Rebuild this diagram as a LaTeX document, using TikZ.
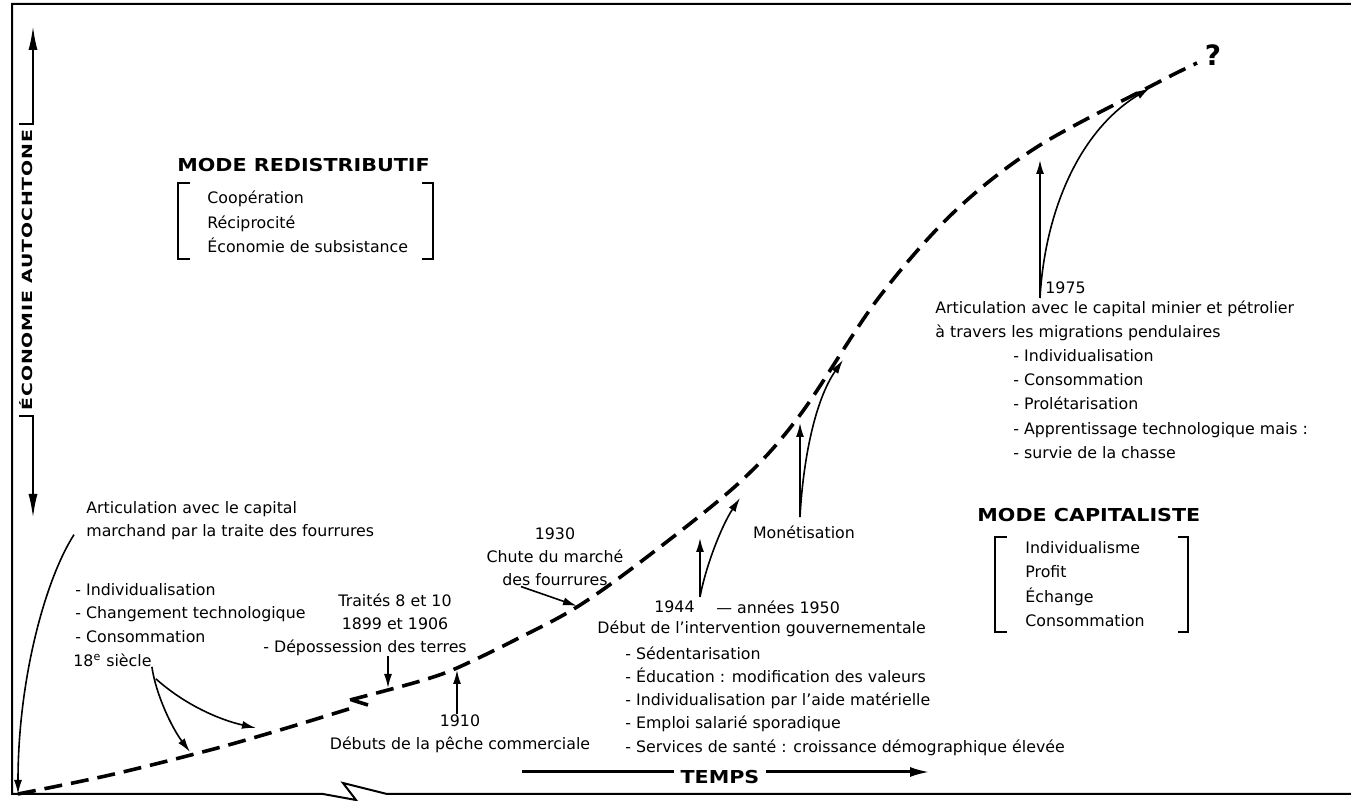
\documentclass[tikz,border=0pt]{standalone}
\usepackage{fontspec}
\setmainfont{DejaVu Sans}
\newfontfamily\headfamily[FakeStretch=1.16]{DejaVu Sans}
\newfontfamily\axisfamily[FakeStretch=1.35, LetterSpace=6]{DejaVu Sans}
\usetikzlibrary{arrows.meta}

\tikzset{
  txt/.style={inner sep=0pt, font=\fontsize{7.9}{11.6}\selectfont},
  txtwide/.style={inner sep=0pt, font=\fontsize{7.9}{12.2}\selectfont},
  modehead/.style={inner sep=0pt, font=\headfamily\bfseries\fontsize{8.9}{10}\selectfont},
  axislbl/.style={inner xsep=3pt, inner ysep=0pt, font=\axisfamily\bfseries\fontsize{7}{8}\selectfont},
  arr/.style={line width=0.8pt, -{Latex[length=7pt,width=4pt]}},
  axarr/.style={line width=1pt, -{Latex[length=12pt,width=4.5pt]}},
  tarr/.style={line width=1.5pt, -{Latex[length=10pt,width=5pt]}},
  trend/.style={line width=1.8pt, dash pattern=on 9pt off 4.5pt},
  bracket/.style={line width=0.8pt},
}

\begin{document}
\begin{tikzpicture}[x=0.5pt, y=-0.5pt]
  \useasboundingbox (0,0) rectangle (1351,801);

  % cadre
  \draw[line width=1pt] (1351,4) -- (12,4) -- (12,794) -- (323,794) -- (356,800) -- (343,783) -- (387,794) -- (1351,794);

  % axe vertical
  \node[axislbl, rotate=90, anchor=south] (axe) at (33,270) {ÉCONOMIE AUTOCHTONE};
  \coordinate (axtop) at (33,26);
  \coordinate (axbot) at (33,518);
  \draw[axarr] (axe.north east) -- (axe.south east) -- (axtop);
  \draw[axarr] (axe.north west) -- (axe.south west) -- (axbot);

  % axe du temps
  \node[modehead, inner xsep=3pt] (temps) at (720,777) {TEMPS};
  \coordinate (tdeb) at (522,772);
  \coordinate (tfin) at (930,772);
  \draw[line width=1.5pt] (tdeb) -- (temps.west |- tdeb);
  \draw[tarr] (temps.east |- tfin) -- (tfin);

  % courbe
  \coordinate (o) at (18,794);
  \draw[trend] plot[smooth, tension=0.55] coordinates {(18,794) (110,775) (210,750) (280,730) (352,708)};
  \draw[trend] plot[smooth, tension=0.55] coordinates {(350,700) (388,690) (427,679) (457,668) (513,641) (577,607) (647,557) (740,482) (800,415) (877,300) (953,213) (1037,147) (1153,85) (1197,63)};
  \draw[line width=1.8pt] (352,700) -- (368,705);
  \node[font=\bfseries\fontsize{14}{14}\selectfont, inner sep=0pt] (qm) at (1213,55) {?};

  % points de la courbe
  \coordinate (c18a) at (190,752);
  \coordinate (c18b) at (256,728);
  \coordinate (cdep) at (388,688);
  \coordinate (c1910) at (457,670);
  \coordinate (cchute) at (577,606);
  \coordinate (t44a) at (700,538);
  \coordinate (t44b) at (740,498);
  \coordinate (tmona) at (800,423);
  \coordinate (tmonb) at (843,360);
  \coordinate (t75a) at (1040,160);
  \coordinate (t75b) at (1150,88);

  % modes
  \node[modehead, anchor=west] (redis) at (177,165) {MODE REDISTRIBUTIF};
  \node[txtwide, anchor=west, align=left] (rediscont) at (207,222) {Coopération\\Réciprocité\\Économie de subsistance};
  \draw[bracket] (190,183) -- (178,183) -- (178,259) -- (190,259);
  \draw[bracket] (422,183) -- (433,183) -- (433,259) -- (422,259);

  \node[modehead, anchor=west] (capi) at (977,515) {MODE CAPITALISTE};
  \node[txtwide, anchor=west, align=left] (capicont) at (1025,584) {Individualisme\\Profit\\Échange\\Consommation};
  \draw[bracket] (1007,537) -- (995,537) -- (995,632) -- (1007,632);
  \draw[bracket] (1178,537) -- (1188,537) -- (1188,632) -- (1178,632);

  % textes
  \node[txt, anchor=west, align=left] (artfour) at (86,521) {Articulation avec le capital\\marchand par la traite des fourrures};
  \node[txt, anchor=west, align=left] (effets) at (75,613) {- Individualisation\\- Changement technologique\\- Consommation};
  \node[txt, anchor=west] (siecle) at (73,660) {18\textsuperscript{e} siècle};
  \node[txt, align=center] (traites) at (395,612) {Traités 8 et 10\\1899 et 1906};
  \node[txt, anchor=west] (depo) at (263,648) {- Dépossession des terres};
  \node[txt, align=center] (peche) at (460,734) {1910\\Débuts de la pêche commerciale};
  \node[txt, align=center] (chute) at (555,557) {1930\\Chute du marché\\des fourrures};
  \node[txt, anchor=east] (an44) at (695,607) {1944};
  \node[txt, anchor=west] (an50) at (716,607) {— années 1950};
  \node[txt, anchor=west] (gouv) at (597,629) {Début de l’intervention gouvernementale};
  \node[txt, anchor=west, align=left] (mesures) at (625,701) {- Sédentarisation\\- Éducation : modification des valeurs\\- Individualisation par l’aide matérielle\\- Emploi salarié sporadique\\- Services de santé : croissance démographique élevée};
  \node[txt] (monet) at (804,532) {Monétisation};
  \node[txt, anchor=west] (an75) at (1045,288) {1975};
  \node[txtwide, anchor=west, align=left] (artmin) at (935,321) {Articulation avec le capital minier et pétrolier\\à travers les migrations pendulaires};
  \node[txtwide, anchor=west, align=left] (effets75) at (1013,404) {- Individualisation\\- Consommation\\- Prolétarisation\\- Apprentissage technologique mais :\\- survie de la chasse};

  % fleches
  \draw[arr] ([xshift=-6pt,yshift=3pt]artfour.south west) .. controls (45,580) and (18,680) .. (o);
  \draw[arr] (siecle.south east) .. controls (156,695) and (172,728) .. (c18a);
  \draw[arr] ([xshift=2pt,yshift=-6pt]siecle.south east) .. controls (185,705) and (220,720) .. (c18b);
  \draw[arr] (depo.south -| cdep) -- (cdep);
  \draw[arr] (peche.north -| c1910) -- (c1910);
  \draw[arr] ([xshift=-17pt]chute.south) -- (cchute);

  \coordinate (b44) at ([xshift=2.5pt,yshift=5pt]an44.east);
  \draw[arr] (b44) -- (t44a);
  \draw[arr] (b44) .. controls (706,565) and (722,525) .. (t44b);

  \coordinate (bmon) at ([xshift=-2pt,yshift=4pt]monet.north);
  \draw[arr] (bmon) -- (tmona);
  \draw[arr] (bmon) .. controls (803,460) and (815,400) .. (tmonb);

  \coordinate (b75) at ([xshift=-2.5pt,yshift=-5pt]an75.west);
  \draw[arr] (b75) -- (t75a);
  \draw[arr] (b75) .. controls (1045,210) and (1080,130) .. (t75b);
\end{tikzpicture}
\end{document}
